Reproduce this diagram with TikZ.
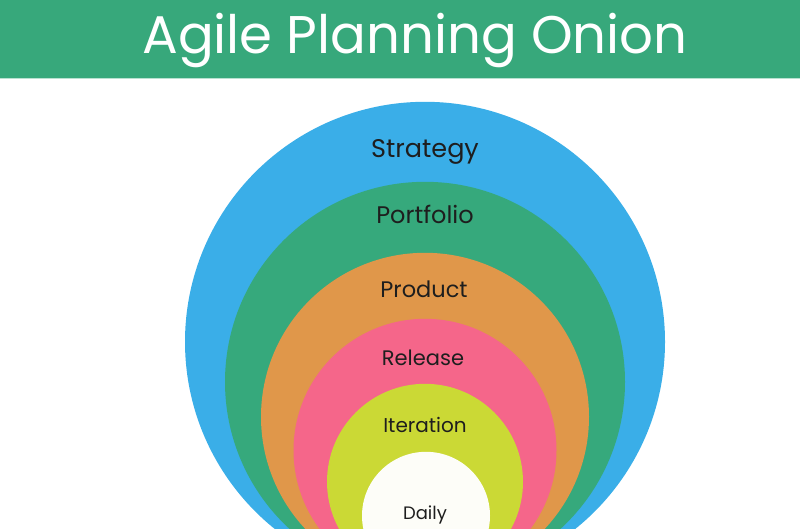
\documentclass[tikz,border=0pt]{standalone}
\usepackage{fontspec}
\setmainfont{Poppins}
\usetikzlibrary{positioning}
\definecolor{header}{HTML}{37A87B}
\definecolor{strategy}{HTML}{3AAEE8}
\definecolor{portfolio}{HTML}{36A97C}
\definecolor{product}{HTML}{E0974A}
\definecolor{release}{HTML}{F5668A}
\definecolor{iteration}{HTML}{CBD935}
\definecolor{daily}{HTML}{FDFDF8}
\definecolor{ink}{HTML}{1E1E1E}

\begin{document}
\begin{tikzpicture}[x=1pt, y=-1pt,
    ring/.style={circle, inner sep=0pt, minimum size=#1, anchor=south},
    ringtext/.style={text=ink, anchor=base, font=\fontsize{#1}{#1}\selectfont}]
    % Fix the page size and cut off the bottom of the onion
    \useasboundingbox (0,0) rectangle (800,528);
    \clip (0,0) rectangle (800,528);

    % Draw the header band with the title
    \fill[header] (0,0) rectangle (800,78);
    \draw[header!35, line width=1pt] (0,78.5) -- (800,78.5);
    \node[text=white, anchor=base, font=\fontsize{53}{53}\selectfont] (title) at (415,53) {Agile Planning Onion};

    % Draw the rings, all touching at the bottom
    \node[ring=480pt, fill=strategy] (strategy) at (425,582) {};
    \node[ring=400pt, fill=portfolio] (portfolio) at (425,582) {};
    \node[ring=328pt, fill=product] (product) at (425,581) {};
    \node[ring=263pt, fill=release] (release) at (425,582) {};
    \node[ring=196pt, fill=iteration] (iteration) at (425,580) {};
    \node[ring=128pt, fill=daily] (daily) at (426,580) {};

    % Draw the ring names
    \node[ringtext=25.5] (strategy-text) at (425,157) {Strategy};
    \node[ringtext=24] (portfolio-text) at (425,223) {Portfolio};
    \node[ringtext=22.5] (product-text) at (424,297) {Product};
    \node[ringtext=21] (release-text) at (423,365) {Release};
    \node[ringtext=20] (iteration-text) at (425,432) {Iteration};
    \node[ringtext=18] (daily-text) at (425,519) {Daily};

\end{tikzpicture}
\end{document}
